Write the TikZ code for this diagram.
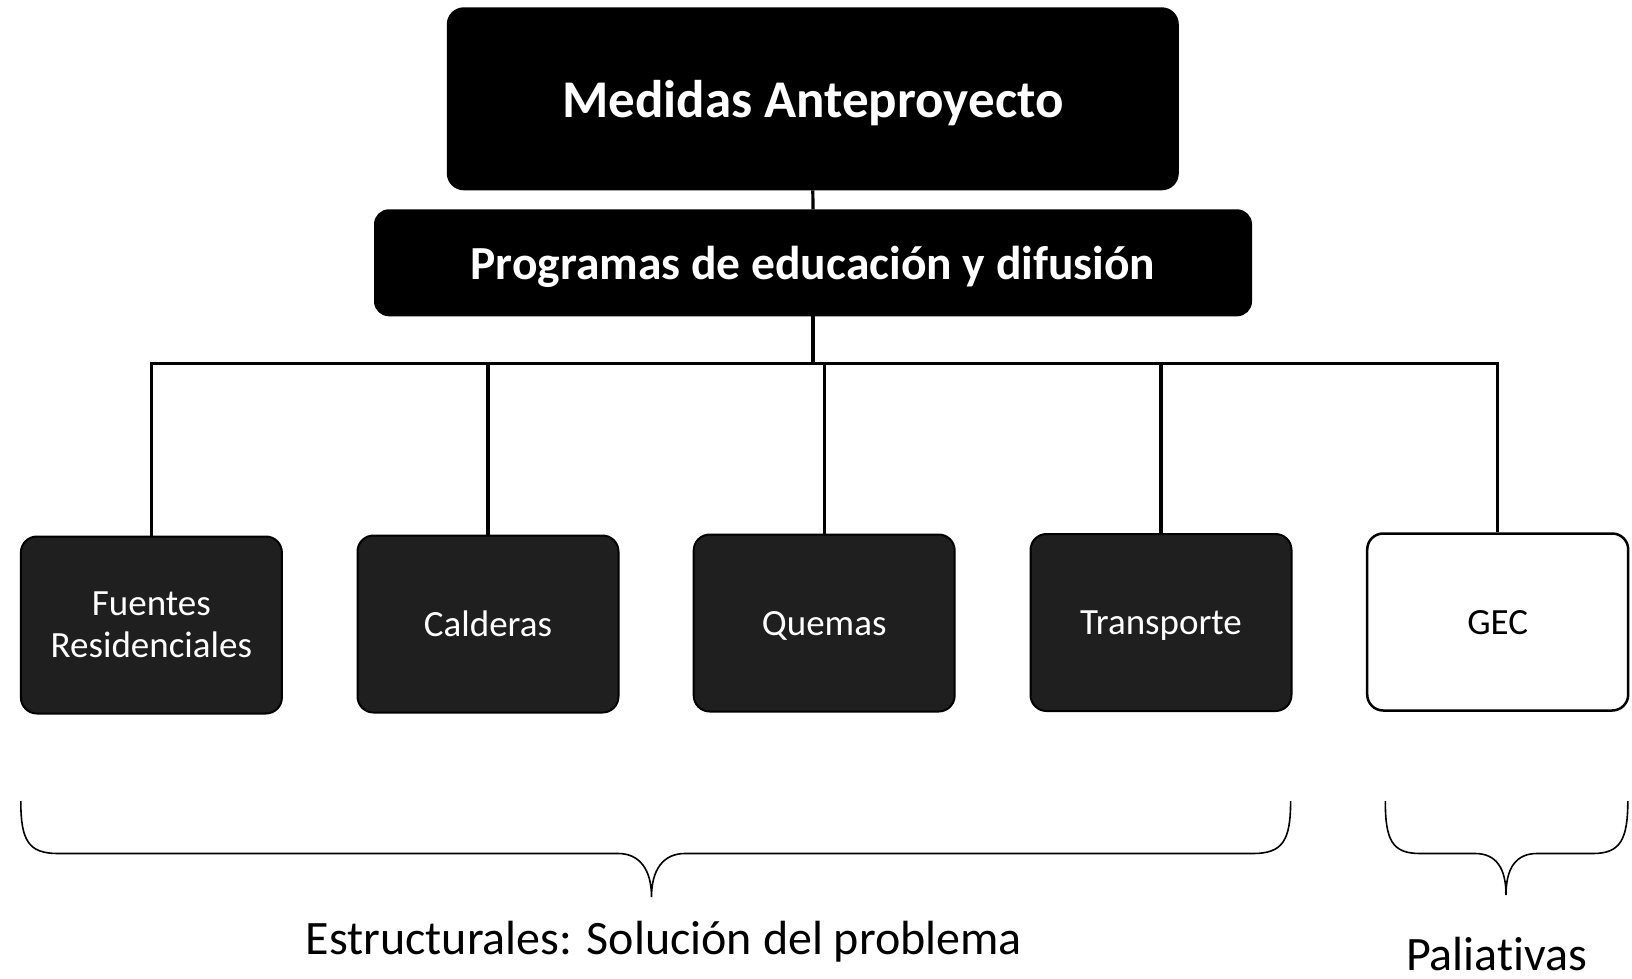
\documentclass[tikz,border=0pt]{standalone}
\usepackage{fontspec}
\setmainfont{Carlito}[Ligatures=NoCommon]
\begin{document}
\begin{tikzpicture}[x=1pt,y=-1pt,
  darkbox/.style={draw=black,line width=2pt,fill=black,text=white,rounded corners=16pt,inner sep=0pt,align=center},
  leafbox/.style={darkbox,fill=black!88,minimum width=261pt,minimum height=177pt,font=\fontsize{37}{42}\selectfont},
  onebox/.style={leafbox,text depth=0pt},
  whitebox/.style={onebox,fill=white,text=black,line width=2.5pt},
  conn/.style={line width=3.2pt},
  brace/.style={line width=1.6pt},
  lbl/.style={font=\fontsize{48}{52}\selectfont,anchor=base}]
\useasboundingbox (0,0) rectangle (1632,979);
\node[darkbox,minimum width=730pt,minimum height=181pt,font=\bfseries\fontsize{53}{57}\selectfont,text depth=0pt] (top) at (812.8,98.8) {Medidas Anteproyecto};
\node[darkbox,minimum width=876pt,minimum height=105pt,font=\bfseries\fontsize{47.5}{52}\selectfont,rounded corners=14pt,text depth=0pt] (prog) at (813,262.8) {Programas de educación y difusión};
\node[leafbox] (b1) at (151.4,625) {Fuentes\\Residenciales};
\node[onebox] (b2) at (488,624) {Calderas};
\node[onebox] (b3) at (824.2,623) {Quemas};
\node[onebox] (b4) at (1161,622.5) {Transporte};
\node[whitebox] (b5) at (1497.7,622) {GEC};
\coordinate (bar) at (0,363.2);
\draw[conn] (top.south) -- (prog.north);
\draw[conn] (prog.south) -- (prog.south |- bar);
\draw[conn] (b1.north) -- (b1.north |- bar) -- (b5.north |- bar) -- (b5.north);
\draw[conn] (b2.north) -- (b2.north |- bar);
\draw[conn] (b3.north) -- (b3.north |- bar);
\draw[conn] (b4.north) -- (b4.north |- bar);
% braces
\coordinate (lbL) at (20.8,801);
\coordinate (lbT) at (651.5,897);
\coordinate (lbR) at (1290.6,801);
\draw[brace] (lbL) .. controls (20.8,840) and (28,853.5) .. (58,853.5) -- (618,853.5)
  .. controls (640,853.5) and (651.5,870) .. (lbT)
  .. controls (651.5,870) and (663,853.5) .. (685,853.5) -- (1253,853.5)
  .. controls (1283,853.5) and (1290.6,840) .. (lbR);
\coordinate (rbL) at (1385.3,801);
\coordinate (rbT) at (1506,895);
\coordinate (rbR) at (1627.8,801);
\draw[brace] (rbL) .. controls (1385.3,840) and (1392,853.5) .. (1420,853.5) -- (1475,853.5)
  .. controls (1496,853.5) and (1506,868) .. (rbT)
  .. controls (1506,868) and (1516,853.5) .. (1537,853.5) -- (1593,853.5)
  .. controls (1620,853.5) and (1627.8,840) .. (rbR);
\node[lbl] (est) at (664,954.5) {Estructurales: Solución del problema};
\node[lbl] (pal) at (1496.7,970) {Paliativas};
\end{tikzpicture}
\end{document}
